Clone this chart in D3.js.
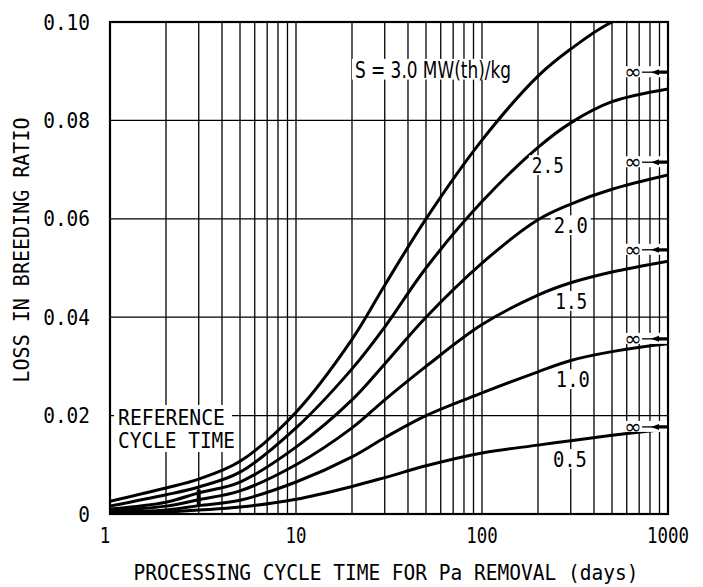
<!DOCTYPE html>
<html>
  <head>
    <script src="https://d3js.org/d3.v7.min.js"></script>
    <style>
      body { margin: 0; background: #fff; }
      text { fill: #000; }
    </style>
  </head>
  <body>
    <div id='container'></div>

    <script type="text/javascript">
      // processing cycle time (days) where the curves were read
      var days = [1, 2, 3, 5, 10, 20, 30, 50, 100, 200, 300, 500, 1000];

      // loss in breeding ratio, one array per specific power S
      var s05 = [0.0002, 0.0004, 0.0008, 0.0014, 0.0030, 0.0056, 0.0074, 0.0098, 0.0124, 0.0140, 0.0149, 0.0160, 0.0173];
      var s10 = [0.0004, 0.0008, 0.0017, 0.0028, 0.0065, 0.0116, 0.0155, 0.0200, 0.0246, 0.0289, 0.0312, 0.0330, 0.0346];
      var s15 = [0.0007, 0.0016, 0.0029, 0.0047, 0.0100, 0.0175, 0.0232, 0.0300, 0.0385, 0.0445, 0.0470, 0.0492, 0.0514];
      var s20 = [0.0010, 0.0024, 0.0043, 0.0065, 0.0136, 0.0232, 0.0305, 0.0400, 0.0510, 0.0598, 0.0630, 0.0660, 0.0689];
      var s25 = [0.0016, 0.0039, 0.0055, 0.0085, 0.0175, 0.0295, 0.0380, 0.0500, 0.0635, 0.0745, 0.0795, 0.0838, 0.0864];
      var s30 = [0.0026, 0.0053, 0.0071, 0.0107, 0.0207, 0.0355, 0.0465, 0.0600, 0.0760, 0.0890, 0.0945, 0.1000, 0.1040];

      var seriesLabels = ["0.5", "1.0", "1.5", "2.0", "2.5", "S = 3.0 MW(th)/kg"];

      // values at infinite cycle time (the arrows on the right)
      var asymptotes = [0.0177, 0.0356, 0.0537, 0.0715, 0.0898];

      var referenceDays = 3;
      var referenceRange = [0.0018, 0.0050];

      var xTicks = [1, 10, 100, 1000];
      var yTicks = [0, 0.02, 0.04, 0.06, 0.08, 0.10];
      var yTickLabels = ["0", "0.02", "0.04", "0.06", "0.08", "0.10"];

      var width = 703, height = 587;
      var pLeft = 110, pRight = 668, pTop = 22, pBottom = 514;

      var x = d3.scaleLog().domain([1, 1000]).range([pLeft, pRight]);
      var y = d3.scaleLinear().domain([0, 0.10]).range([pBottom, pTop]);

      var svg = d3.select("#container").append("svg")
        .attr("width", width)
        .attr("height", height);

      svg.append("defs").append("clipPath").attr("id", "plot")
        .append("rect")
          .attr("x", pLeft).attr("y", pTop)
          .attr("width", pRight - pLeft).attr("height", pBottom - pTop);

      // grid: every 1..9 in each decade
      var gridDays = [];
      [1, 10, 100].forEach(function(d) {
        for (var k = 2; k <= 9; k++) gridDays.push(d * k);
      });
      gridDays.push(10, 100);

      var grid = svg.append("g").attr("stroke", "#000").attr("stroke-width", 1.3);
      grid.selectAll("line.v").data(gridDays).enter().append("line")
        .attr("x1", function(d) { return x(d); })
        .attr("x2", function(d) { return x(d); })
        .attr("y1", pTop).attr("y2", pBottom);
      grid.selectAll("line.h").data(yTicks.slice(1, 5)).enter().append("line")
        .attr("x1", pLeft).attr("x2", pRight)
        .attr("y1", function(d) { return y(d); })
        .attr("y2", function(d) { return y(d); });

      // curves
      var allSeries = [s05, s10, s15, s20, s25, s30];
      var line = d3.line()
        .x(function(d, i) { return x(days[i]); })
        .y(function(d) { return y(d); })
        .curve(d3.curveCatmullRom.alpha(0.5));

      svg.append("g").attr("clip-path", "url(#plot)")
        .selectAll("path").data(allSeries).enter().append("path")
          .attr("d", line)
          .attr("fill", "none")
          .attr("stroke", "#000")
          .attr("stroke-width", 3);

      // reference cycle time marker
      svg.append("line")
        .attr("x1", x(referenceDays)).attr("x2", x(referenceDays))
        .attr("y1", y(referenceRange[0])).attr("y2", y(referenceRange[1]))
        .attr("stroke", "#000").attr("stroke-width", 4);

      // frame
      svg.append("rect")
        .attr("x", pLeft).attr("y", pTop)
        .attr("width", pRight - pLeft).attr("height", pBottom - pTop)
        .attr("fill", "none").attr("stroke", "#000").attr("stroke-width", 2.2);

      // label helper: white patch behind, text stretched to a given width
      function label(cx, cy, txt, size, len, family, pad) {
        var g = svg.append("g");
        g.append("rect")
          .attr("x", cx - len / 2 - pad).attr("y", cy - size * 0.45)
          .attr("width", len + 2 * pad).attr("height", size * 0.9)
          .attr("fill", "#fff");
        g.append("text")
          .attr("x", cx).attr("y", cy)
          .attr("dy", "0.36em")
          .attr("text-anchor", "middle")
          .attr("font-family", family)
          .attr("font-size", size)
          .attr("textLength", len)
          .attr("lengthAdjust", "spacingAndGlyphs")
          .text(txt);
      }

      var mono = "DejaVu Sans Mono";

      // where each curve label sits, in chart units [days, value]
      var labelAt = [[297, 0.0112], [308, 0.0274], [302, 0.0433], [300, 0.0587], [226, 0.0709], [54.5, 0.0904]];
      var labelLen = [34, 34, 32, 34, 32, 156];
      seriesLabels.forEach(function(t, i) {
        var fam = i == 5 ? "DejaVu Sans Condensed, DejaVu Sans" : mono;
        var size = i == 5 ? 23 : 22;
        label(x(labelAt[i][0]), y(labelAt[i][1]), t, size, labelLen[i], fam, 3);
      });

      // reference cycle time label
      var refBox = svg.append("g");
      refBox.append("rect").attr("x", pLeft + 4).attr("y", 405)
        .attr("width", 118).attr("height", 47).attr("fill", "#fff");
      refBox.append("text").attr("x", pLeft + 8).attr("y", 425)
        .attr("font-family", mono).attr("font-size", 22)
        .attr("textLength", 107).attr("lengthAdjust", "spacingAndGlyphs")
        .text("REFERENCE");
      refBox.append("text").attr("x", pLeft + 8).attr("y", 448)
        .attr("font-family", mono).attr("font-size", 22)
        .attr("textLength", 117).attr("lengthAdjust", "spacingAndGlyphs")
        .text("CYCLE TIME");

      // infinity arrows
      var inf = svg.append("g").selectAll("g").data(asymptotes).enter().append("g")
        .attr("transform", function(d) { return "translate(0," + y(d) + ")"; });
      inf.append("rect").attr("x", pRight - 44).attr("y", -6)
        .attr("width", 43).attr("height", 11).attr("fill", "#fff");
      inf.append("text").attr("x", pRight - 35).attr("y", 0).attr("dy", "0.32em")
        .attr("text-anchor", "middle")
        .attr("font-family", "DejaVu Sans").attr("font-size", 21)
        .text("\u221e");
      inf.append("line").attr("x1", pRight - 26).attr("x2", pRight)
        .attr("stroke", "#000").attr("stroke-width", 1.3);
      inf.append("path")
        .attr("d", "M" + (pRight - 17) + ",0 L" + (pRight - 9) + ",-3 L" + (pRight - 9) + ",3 Z M" + (pRight - 9) + ",-1.6 L" + pRight + ",-1.6 L" + pRight + ",1.6 L" + (pRight - 9) + ",1.6 Z")
        .attr("fill", "#000");

      // tick labels
      svg.selectAll("text.xt").data(xTicks).enter().append("text")
        .attr("x", function(d, i) { return x(d) - (i == 0 ? 5 : 0); })
        .attr("y", 543)
        .attr("text-anchor", "middle")
        .attr("font-family", mono).attr("font-size", 21)
        .attr("textLength", function(d) { return String(d).length * 10.5; })
        .attr("lengthAdjust", "spacingAndGlyphs")
        .text(function(d) { return d; });

      svg.selectAll("text.yt").data(yTicks).enter().append("text")
        .attr("x", 90)
        .attr("y", function(d) { return y(d); })
        .attr("dy", "0.36em")
        .attr("text-anchor", "end")
        .attr("font-family", mono).attr("font-size", 21)
        .attr("textLength", function(d, i) { return yTickLabels[i].length * 11.7; })
        .attr("lengthAdjust", "spacingAndGlyphs")
        .text(function(d, i) { return yTickLabels[i]; });

      // axis titles
      svg.append("text")
        .attr("x", (pLeft + pRight) / 2 - 3).attr("y", 580)
        .attr("text-anchor", "middle")
        .attr("font-family", mono).attr("font-size", 21)
        .attr("textLength", 505).attr("lengthAdjust", "spacingAndGlyphs")
        .text("PROCESSING CYCLE TIME FOR Pa REMOVAL (days)");

      svg.append("text")
        .attr("transform", "translate(29,250) rotate(-90)")
        .attr("text-anchor", "middle")
        .attr("font-family", mono).attr("font-size", 21)
        .attr("textLength", 265).attr("lengthAdjust", "spacingAndGlyphs")
        .text("LOSS IN BREEDING RATIO");
    </script>
  </body>
</html>
